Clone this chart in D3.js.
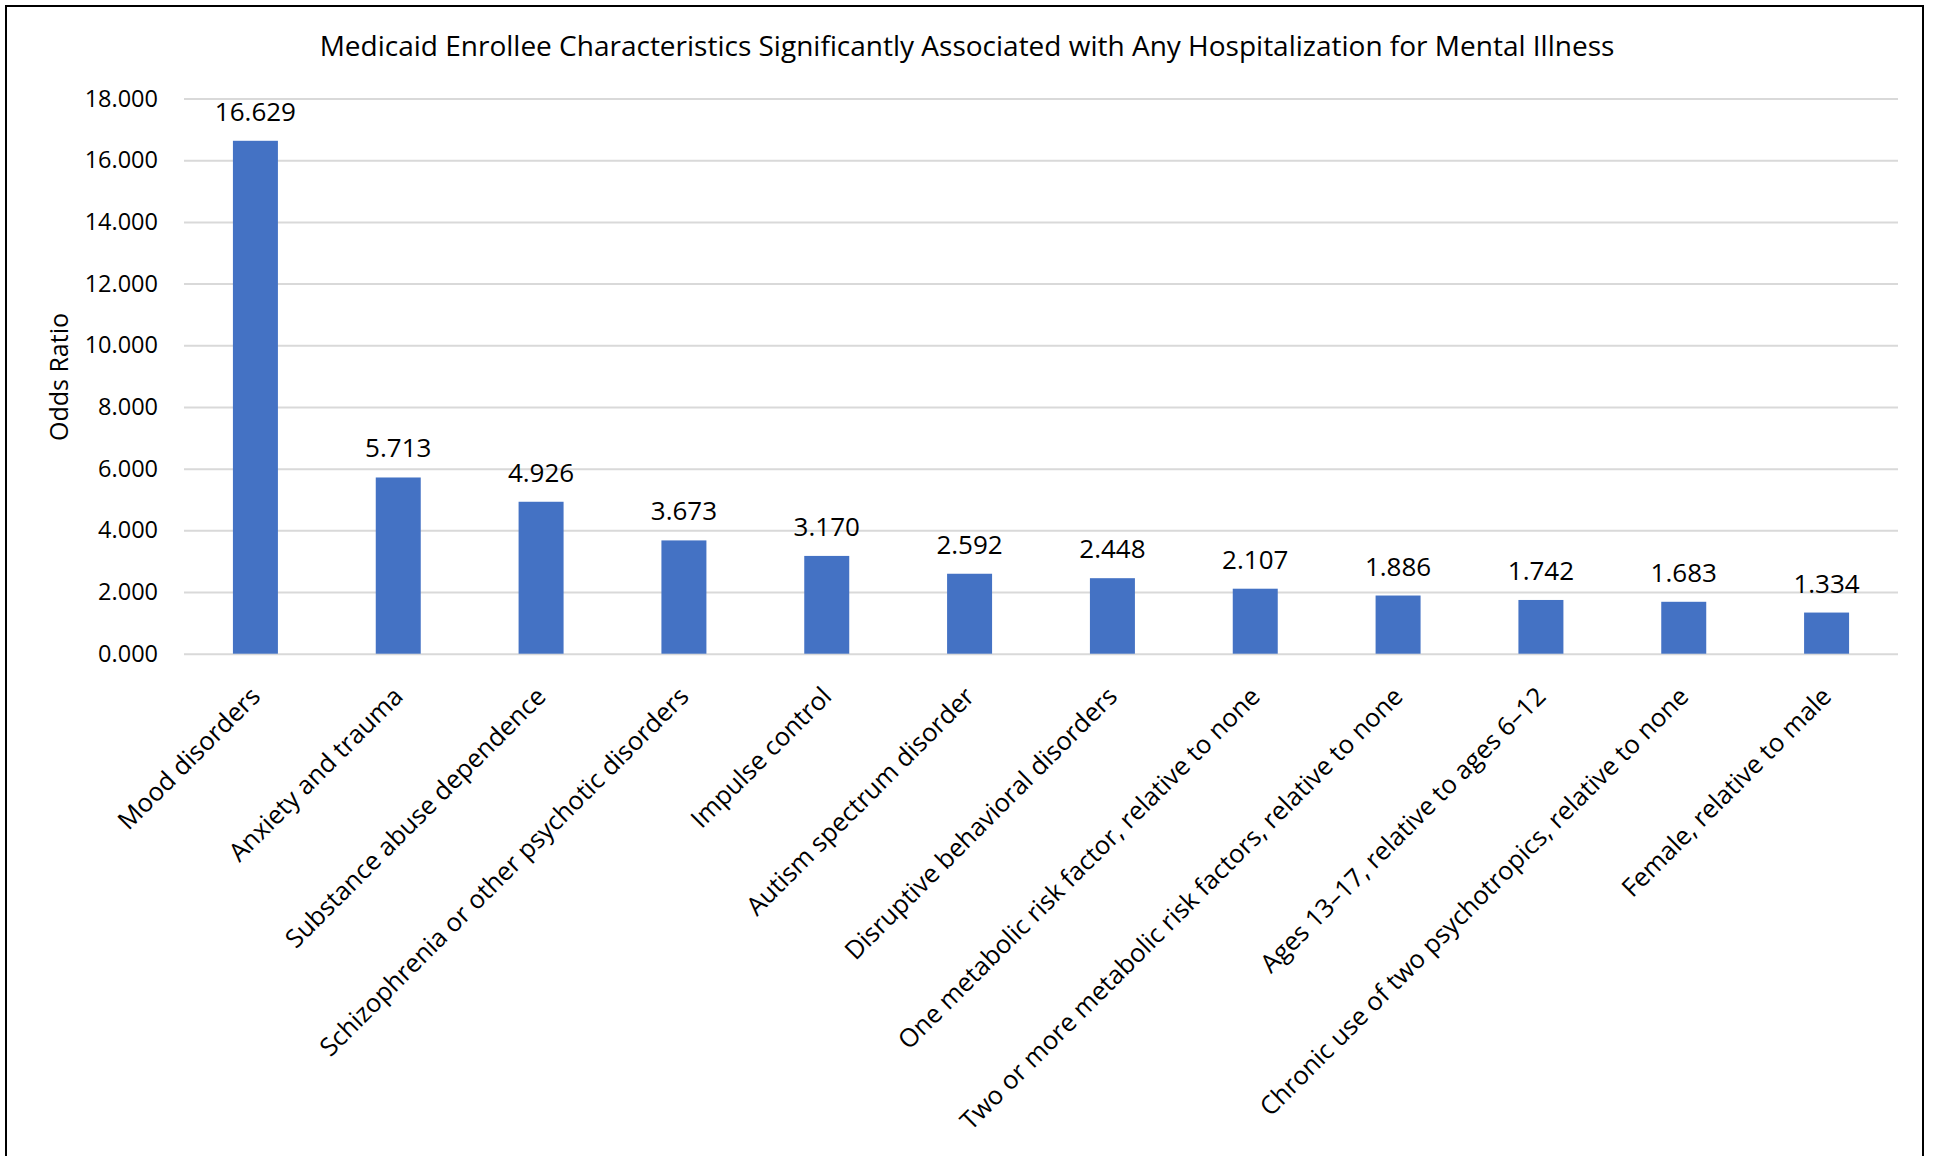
<!DOCTYPE html>
<html>
<head>
<meta charset="utf-8">
<script src="https://cdn.jsdelivr.net/npm/d3@7"></script>
<style>
  html, body { margin: 0; padding: 0; background: #fff; }
  svg { display: block; }
  text { font-family: "Open Sans", "Noto Sans", sans-serif; fill: #000; }
</style>
</head>
<body>
<svg id="chart" width="1937" height="1156"></svg>
<script>
// Chart content
const chartTitle = "Medicaid Enrollee Characteristics Significantly Associated with Any Hospitalization for Mental Illness";
const yAxisLabel = "Odds Ratio";

const categories = [
  "Mood disorders",
  "Anxiety and trauma",
  "Substance abuse dependence",
  "Schizophrenia or other psychotic disorders",
  "Impulse control",
  "Autism spectrum disorder",
  "Disruptive behavioral disorders",
  "One metabolic risk factor, relative to none",
  "Two or more metabolic risk factors, relative to none",
  "Ages 13\u201317, relative to ages 6\u201312",
  "Chronic use of two psychotropics, relative to none",
  "Female, relative to male"
];
const oddsRatios = [16.629, 5.713, 4.926, 3.673, 3.170, 2.592, 2.448, 2.107, 1.886, 1.742, 1.683, 1.334];
const yTicks = [0, 2, 4, 6, 8, 10, 12, 14, 16, 18];

const svg = d3.select("#chart");
const W = 1937, H = 1156;
const plot = { left: 184, right: 1898, top: 98.5, bottom: 653.7 };

// Outer frame (bottom edge runs past the canvas)
svg.append("rect")
  .attr("x", 6).attr("y", 6)
  .attr("width", 1917).attr("height", H + 20)
  .attr("fill", "#fff").attr("stroke", "#000").attr("stroke-width", 2);

const x = d3.scaleBand().domain(categories).range([plot.left, plot.right]).paddingInner(0.685).paddingOuter(0.3425);
const y = d3.scaleLinear().domain([0, 18]).range([plot.bottom, plot.top]);

// Gridlines and y tick labels
const yAxis = d3.axisLeft(y).tickValues(yTicks).tickFormat(d3.format(".3f"))
  .tickSize(-(plot.right - plot.left)).tickPadding(26);
const gy = svg.append("g").attr("transform", `translate(${plot.left},0)`).call(yAxis);
gy.select(".domain").remove();
gy.selectAll(".tick line").attr("stroke", "#d9d9d9").attr("stroke-width", 2);
gy.selectAll(".tick text").attr("font-size", 23.5).attr("font-family", "Open Sans").attr("fill", "#000");

// Bars
svg.append("g").selectAll("rect").data(categories).join("rect")
  .attr("x", d => x(d))
  .attr("width", x.bandwidth())
  .attr("y", (d, i) => y(oddsRatios[i]))
  .attr("height", (d, i) => y(0) - y(oddsRatios[i]))
  .attr("fill", "#4472C4");

// Value labels
svg.append("g").selectAll("text").data(categories).join("text")
  .attr("x", d => x(d) + x.bandwidth() / 2)
  .attr("y", (d, i) => y(oddsRatios[i]) - 20)
  .attr("text-anchor", "middle")
  .attr("font-size", 26)
  .text((d, i) => d3.format(".3f")(oddsRatios[i]));

// Category labels, rotated
const xAxis = d3.axisBottom(x).tickSize(0).tickPadding(0);
const gx = svg.append("g").attr("transform", `translate(0,${plot.bottom})`).call(xAxis);
gx.select(".domain").remove();
gx.selectAll(".tick text")
  .attr("font-size", 25.5).attr("font-family", "Open Sans").attr("fill", "#000")
  .attr("text-anchor", "end")
  .attr("dy", "0.35em")
  .attr("transform", "translate(0,38) rotate(-45)");

// Title
svg.append("text")
  .attr("x", 967).attr("y", 56)
  .attr("text-anchor", "middle")
  .attr("font-size", 28)
  .text(chartTitle);

// Y axis title
svg.append("text")
  .attr("transform", `translate(68,377) rotate(-90)`)
  .attr("text-anchor", "middle")
  .attr("font-size", 25)
  .text(yAxisLabel);
</script>
</body>
</html>
